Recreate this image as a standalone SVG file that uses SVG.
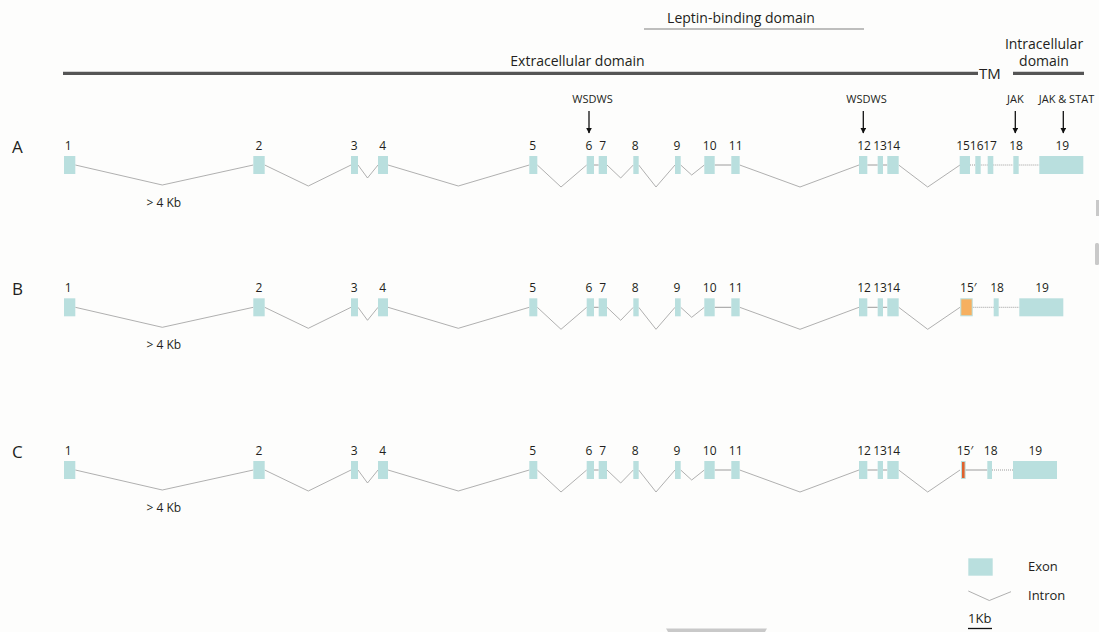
<svg xmlns="http://www.w3.org/2000/svg" width="1099" height="632" viewBox="0 0 1099 632">
<defs>
<style>
text{font-family:"Open Sans","Noto Sans","Liberation Sans",sans-serif;fill:#231f20}
.num{font-size:12px;text-anchor:middle}
.ex{fill:#b9dfde}
.in{fill:none;stroke:#9c9c9c;stroke-width:0.8}
.dot{fill:none;stroke:#9c9c9c;stroke-width:1;stroke-dasharray:1 1}
.ln{fill:none;stroke:#9c9c9c;stroke-width:1}
.lbl{font-size:11px;text-anchor:middle}
.dom{font-size:14px;text-anchor:middle}
.row{font-size:17px}
.kb{font-size:12px}
.arr{stroke:#111;stroke-width:1.3;marker-end:url(#ah)}
.art{fill:#c9c9c9}
</style>
<marker id="ah" viewBox="0 0 10 10" refX="9" refY="5" markerWidth="6" markerHeight="6" orient="auto" markerUnits="userSpaceOnUse"><path d="M0,0 L10,5 L0,10 z" fill="#111"/></marker>
<g id="rowexons">
<rect class="ex" x="64" y="0" width="11.3" height="18"/>
<rect class="ex" x="253.3" y="0" width="11.4" height="18"/>
<rect class="ex" x="351" y="0" width="7" height="18"/>
<rect class="ex" x="378" y="0" width="10" height="18"/>
<rect class="ex" x="529.3" y="0" width="8" height="18"/>
<rect class="ex" x="586.7" y="0" width="7.3" height="18"/>
<rect class="ex" x="598.7" y="0" width="8.3" height="18"/>
<rect class="ex" x="633.3" y="0" width="5.4" height="18"/>
<rect class="ex" x="675" y="0" width="5.7" height="18"/>
<rect class="ex" x="704.3" y="0" width="10.4" height="18"/>
<rect class="ex" x="731.3" y="0" width="8.4" height="18"/>
<rect class="ex" x="859" y="0" width="8.3" height="18"/>
<rect class="ex" x="877.7" y="0" width="5.3" height="18"/>
<rect class="ex" x="887.3" y="0" width="11.4" height="18"/>
</g>
<g id="rowintrons">
<polyline class="in" points="75.3,9 162.3,29 253.3,9"/>
<polyline class="in" points="264.7,9 308.3,30 351,9"/>
<polyline class="in" points="358,9 367.5,22 378,9"/>
<polyline class="in" points="388,9 458.3,30 529.3,9"/>
<polyline class="in" points="537.3,9 561,31 586.7,9"/>
<line class="ln" x1="594" y1="9" x2="598.7" y2="9"/>
<polyline class="in" points="607,9 620.7,22 633.3,9"/>
<polyline class="in" points="638.7,9 656,31 675,9"/>
<polyline class="in" points="680.7,9 691.7,19 704.3,9"/>
<line class="ln" x1="714.7" y1="9" x2="731.3" y2="9"/>
<polyline class="in" points="739.7,9 800,31 859,9"/>
<line class="ln" x1="867.3" y1="9" x2="877.7" y2="9"/>
<line class="ln" x1="883" y1="9" x2="887.3" y2="9"/>
<polyline class="in" points="898.7,9 927.7,31 960,9"/>
</g>
<g id="rownums">
<text class="num" x="68.3" y="0">1</text>
<text class="num" x="259" y="0">2</text>
<text class="num" x="354.3" y="0">3</text>
<text class="num" x="382.7" y="0">4</text>
<text class="num" x="532.7" y="0">5</text>
<text class="num" x="589" y="0">6</text>
<text class="num" x="602.7" y="0">7</text>
<text class="num" x="635.3" y="0">8</text>
<text class="num" x="677" y="0">9</text>
<text class="num" x="709.7" y="0">10</text>
<text class="num" x="735.7" y="0">11</text>
<text class="num" x="864" y="0">12</text>
<text class="num" x="880" y="0">13</text>
<text class="num" x="893.3" y="0">14</text>
</g>
</defs>
<rect width="1099" height="632" fill="#fdfdfc"/>

<g id="domains">
<text class="dom" x="741" y="23">Leptin-binding domain</text>
<line x1="644" y1="29" x2="864" y2="29" stroke="#a9a9a9" stroke-width="1.5"/>
<text class="dom" x="577.5" y="66">Extracellular domain</text>
<line x1="63" y1="73.3" x2="978" y2="73.3" stroke="#555" stroke-width="3.2"/>
<text x="979" y="79" style="font-size:15px">TM</text>
<text class="dom" x="1044" y="49">Intracellular</text>
<text class="dom" x="1044" y="66">domain</text>
<line x1="1013" y1="73.3" x2="1084" y2="73.3" stroke="#555" stroke-width="3.2"/>
</g>

<g id="motifs">
<text class="lbl" x="592.5" y="103">WSDWS</text>
<line class="arr" x1="589" y1="111" x2="589" y2="133"/>
<text class="lbl" x="866.5" y="103">WSDWS</text>
<line class="arr" x1="863.3" y1="111" x2="863.3" y2="133"/>
<text class="lbl" x="1015.3" y="103">JAK</text>
<line class="arr" x1="1015.3" y1="111" x2="1015.3" y2="133"/>
<text class="lbl" x="1066.5" y="103">JAK &amp; STAT</text>
<line class="arr" x1="1063.3" y1="111" x2="1063.3" y2="133"/>
</g>

<g id="isoformA">
<text class="row" x="12" y="153">A</text>
<use href="#rownums" y="150"/>
<text class="num" x="963" y="150">15</text>
<text class="num" x="976.7" y="150">16</text>
<text class="num" x="990" y="150">17</text>
<text class="num" x="1016" y="150">18</text>
<text class="num" x="1062.3" y="150">19</text>
<g id="connectorsA">
<use href="#rowintrons" y="156"/>
<line class="dot" x1="970" y1="165" x2="975.3" y2="165"/>
<line class="dot" x1="980.7" y1="165" x2="987.7" y2="165"/>
<line class="dot" x1="993.3" y1="165" x2="1013.3" y2="165"/>
<line class="dot" x1="1018.7" y1="165" x2="1039.3" y2="165"/>
</g>
<use href="#rowexons" y="156"/>
<rect class="ex" x="959.7" y="156" width="10.3" height="18"/>
<rect class="ex" x="975.3" y="156" width="5.4" height="18"/>
<rect class="ex" x="987.7" y="156" width="5.6" height="18"/>
<rect class="ex" x="1013.3" y="156" width="5.4" height="18"/>
<rect class="ex" x="1039.3" y="156" width="44" height="18"/>
<text class="kb" x="146.5" y="207">&gt; 4 Kb</text>
</g>

<g id="isoformB">
<text class="row" x="12" y="295">B</text>
<use href="#rownums" y="292.3"/>
<text class="num" x="968.3" y="292.3">15′</text>
<text class="num" x="997" y="292.3">18</text>
<text class="num" x="1042" y="292.3">19</text>
<g id="connectorsB">
<use href="#rowintrons" y="298.3"/>
<line class="dot" x1="972.7" y1="307.3" x2="993.7" y2="307.3"/>
<line class="dot" x1="998.7" y1="307.3" x2="1019.3" y2="307.3"/>
</g>
<use href="#rowexons" y="298.3"/>
<rect x="960.8" y="298.8" width="11.4" height="17" fill="#f6b060" stroke="#b9dfde" stroke-width="1"/>
<rect class="ex" x="993.7" y="298.3" width="5" height="18"/>
<rect class="ex" x="1019.3" y="298.3" width="44" height="18"/>
<text class="kb" x="146.5" y="349">&gt; 4 Kb</text>
</g>

<g id="isoformC">
<text class="row" x="12" y="458">C</text>
<use href="#rownums" y="455"/>
<text class="num" x="965" y="455">15′</text>
<text class="num" x="990.7" y="455">18</text>
<text class="num" x="1035.3" y="455">19</text>
<g id="connectorsC">
<use href="#rowintrons" y="461"/>
<line class="ln" x1="965.3" y1="470" x2="987.3" y2="470"/>
<line class="dot" x1="992" y1="470" x2="1013" y2="470"/>
</g>
<use href="#rowexons" y="461"/>
<rect x="961.5" y="461.5" width="3.6" height="17" fill="#e0622e" stroke="#b9dfde" stroke-width="1"/>
<rect class="ex" x="987.3" y="461" width="4.7" height="18"/>
<rect class="ex" x="1013" y="461" width="44" height="18"/>
<text class="kb" x="146.5" y="512">&gt; 4 Kb</text>
</g>

<g id="legend">
<rect class="ex" x="968.3" y="558.3" width="24.4" height="17.4"/>
<text x="1028" y="571" style="font-size:13px">Exon</text>
<polyline class="in" points="968.3,591 989.3,600.5 1011,591.7"/>
<text x="1028" y="600" style="font-size:13px">Intron</text>
<text x="968" y="623" style="font-size:13px">1Kb</text>
<line x1="968" y1="628.5" x2="992" y2="628.5" stroke="#111" stroke-width="1.3"/>
</g>

<g id="edges">
<rect class="art" x="1096" y="200" width="3" height="16"/>
<rect class="art" x="1095" y="243" width="4" height="22" rx="1.5"/>
<path class="art" d="M666,628.5 L767,628.5 L765,632 L668,632 z"/>
</g>
</svg>
